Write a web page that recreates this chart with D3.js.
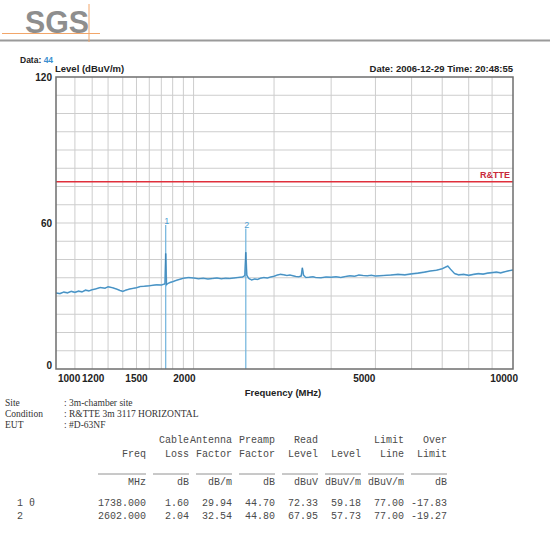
<!DOCTYPE html>
<html>
<head>
<meta charset="utf-8">
<script src="https://cdn.jsdelivr.net/npm/d3@7"></script>
<style>
  body { margin: 0; background: #fff; }
  svg { display: block; }
</style>
</head>
<body>
<div id="chart"></div>
<script>
// trace data (MHz, dBuV/m)
var traceFreq = [1000, 1020, 1040, 1060, 1080, 1100, 1120, 1140, 1160, 1180, 1200, 1220, 1250, 1280, 1300, 1330, 1360, 1380, 1400, 1420,
  1450, 1480, 1500, 1530, 1560, 1600, 1630, 1660, 1700, 1720, 1732, 1738, 1745, 1752, 1760, 1780, 1800, 1830, 1860, 1900,
  1950, 2000, 2050, 2100, 2150, 2200, 2250, 2300, 2350, 2400, 2450, 2500, 2560, 2590, 2602, 2615, 2640, 2680, 2720, 2760,
  2800, 2850, 2900, 2950, 3000, 3050, 3100, 3150, 3200, 3250, 3300, 3350, 3400, 3440, 3460, 3480, 3520, 3580, 3650, 3700,
  3800, 3900, 4000, 4100, 4200, 4300, 4400, 4500, 4600, 4700, 4800, 4900, 5000, 5200, 5400, 5600, 5800, 6000, 6200, 6400,
  6600, 6800, 7000, 7200, 7300, 7450, 7600, 7800, 8000, 8200, 8400, 8600, 8800, 9000, 9200, 9400, 9600, 9800, 10000];
var traceLevel = [31.2, 31.0, 31.6, 31.3, 31.9, 31.5, 32.0, 31.7, 32.4, 32.1, 32.6, 32.9, 33.5, 33.2, 33.8, 33.4, 32.8, 32.3, 31.9, 32.4,
  32.9, 33.2, 33.4, 33.9, 34.0, 34.2, 34.4, 34.6, 34.5, 34.8, 35.0, 47.5, 34.6, 35.0, 35.2, 35.6, 35.9, 36.4, 36.8, 37.3,
  37.6, 37.4, 37.1, 37.3, 37.0, 37.2, 37.4, 37.1, 37.3, 37.2, 37.4, 37.6, 37.8, 38.4, 48.0, 38.6, 37.2, 36.6, 37.0, 36.8,
  37.3, 37.6, 37.4, 37.8, 38.1, 38.6, 38.9, 38.7, 38.4, 38.6, 38.3, 38.0, 37.9, 38.2, 41.6, 38.6, 37.6, 37.7, 37.9, 37.6,
  37.5, 37.8, 37.7, 37.9, 37.6, 38.0, 38.3, 38.1, 38.6, 38.4, 38.3, 38.5, 38.2, 38.4, 38.6, 38.9, 38.7, 39.1, 39.4, 39.8,
  40.3, 40.6, 41.2, 42.3, 41.0, 39.2, 38.7, 38.9, 38.5, 38.9, 39.2, 39.0, 39.4, 39.6, 39.8, 39.5, 40.0, 40.4, 40.7];

// markers
var markerNo = ["1", "2"];
var markerFreq = [1738, 2602];
var markerLevel = [59.18, 57.73];

// limit line
var limitName = "R&TTE";
var limitLevel = 77;

// axes
var xTickLabels = [1000, 1200, 1500, 2000, 5000, 10000];
var xGridFreq = [1100, 1200, 1300, 1400, 1500, 1600, 1700, 1800, 1900, 2000, 3000, 4000, 5000, 6000, 7000, 8000, 9000];
var yTickLabels = [0, 60, 120];
var yGridLevel = [7.5, 15, 22.5, 30, 37.5, 45, 52.5, 60, 67.5, 75, 82.5, 90, 97.5, 105, 112.5];

// info + table
var infoKeys = ["Site", "Condition", "EUT"];
var infoValues = [": 3m-chamber site", ": R&TTE 3m 3117 HORIZONTAL", ": #D-63NF"];
var tableHead1 = ["", "  Cable", "Antenna", " Preamp", "   Read", "", "  Limit", "   Over"];
var tableHead2 = ["Freq", "Loss", "Factor", "Factor", "Level", "Level", "Line", "Limit"];
var tableUnits = ["MHz", "dB", "dB/m", "dB", "dBuV", "dBuV/m", "dBuV/m", "dB"];
var rowLabels = ["1 \u03b8", "2"];
var rowFreq = ["1738.000", "2602.000"];
var rowCable = ["1.60", "2.04"];
var rowAnt = ["29.94", "32.54"];
var rowPre = ["44.70", "44.80"];
var rowRead = ["72.33", "67.95"];
var rowLevel = ["59.18", "57.73"];
var rowLimit = ["77.00", "77.00"];
var rowOver = ["-17.83", "-19.27"];

var W = 550, H = 534;
var plot = {left: 56, right: 513, top: 77, bottom: 369};

var svg = d3.select("#chart")
  .append("svg")
    .attr("width", W)
    .attr("height", H)
    .style("font-family", "'Liberation Sans', Arial, sans-serif");

svg.append("rect").attr("width", W).attr("height", H).attr("fill", "#fff");

// ---- header logo ----
svg.append("line")
  .attr("x1", 0).attr("x2", W).attr("y1", 40.5).attr("y2", 40.5)
  .attr("stroke", "#9a9a9a").attr("stroke-width", 2);
svg.append("text")
  .attr("x", 25).attr("y", 33)
  .attr("font-size", 32).attr("font-weight", "bold")
  .attr("fill", "#8e8e8e")
  .attr("textLength", 64).attr("lengthAdjust", "spacingAndGlyphs")
  .text("SGS");
svg.append("line")
  .attr("x1", 2).attr("x2", 100).attr("y1", 33.5).attr("y2", 33.5)
  .attr("stroke", "#f2a66a").attr("stroke-width", 1);
svg.append("line")
  .attr("x1", 89).attr("x2", 89).attr("y1", 4).attr("y2", 42)
  .attr("stroke", "#f2a66a").attr("stroke-width", 1);

// ---- scales ----
var x = d3.scaleLog().domain([1000, 10000]).range([plot.left, plot.right]);
var y = d3.scaleLinear().domain([0, 120]).range([plot.bottom, plot.top]);

var g = svg.append("g");

// grid
g.selectAll(".vgrid").data(xGridFreq).enter().append("line")
  .attr("x1", function(d) { return x(d); }).attr("x2", function(d) { return x(d); })
  .attr("y1", plot.top).attr("y2", plot.bottom)
  .attr("stroke", "#cdcdcd").attr("stroke-width", 1);
g.selectAll(".hgrid").data(yGridLevel).enter().append("line")
  .attr("x1", plot.left).attr("x2", plot.right)
  .attr("y1", function(d) { return y(d); }).attr("y2", function(d) { return y(d); })
  .attr("stroke", "#cdcdcd").attr("stroke-width", 1);

// limit line
g.append("line")
  .attr("x1", plot.left).attr("x2", plot.right)
  .attr("y1", y(limitLevel)).attr("y2", y(limitLevel))
  .attr("stroke", "#e0303c").attr("stroke-width", 1.5);
g.append("text")
  .attr("x", plot.right - 3).attr("y", y(limitLevel) - 4)
  .attr("text-anchor", "end")
  .attr("font-size", 9).attr("font-weight", "bold")
  .attr("fill", "#c8283a")
  .text(limitName);

// marker lines
g.selectAll(".mk").data(markerFreq).enter().append("line")
  .attr("x1", function(d) { return x(d); }).attr("x2", function(d) { return x(d); })
  .attr("y1", plot.bottom)
  .attr("y2", function(d, i) { return y(markerLevel[i]); })
  .attr("stroke", "#6fb3dc").attr("stroke-width", 1.2);
g.selectAll(".mkl").data(markerFreq).enter().append("text")
  .attr("x", function(d) { return x(d) + 1; })
  .attr("y", function(d, i) { return y(markerLevel[i]) - 1; })
  .attr("text-anchor", "middle")
  .attr("font-size", 9)
  .attr("fill", "#4d9fd4")
  .text(function(d, i) { return markerNo[i]; });

// trace
var pts = traceFreq.map(function(f, i) { return [f, traceLevel[i]]; });
var line = d3.line()
  .x(function(d) { return x(d[0]); })
  .y(function(d) { return y(d[1]); });
g.append("path")
  .datum(pts)
  .attr("d", line)
  .attr("fill", "none")
  .attr("stroke", "#69b4e4").attr("stroke-width", 1.6);
g.append("path")
  .datum(pts)
  .attr("d", line)
  .attr("fill", "none")
  .attr("stroke", "#3a7aa8").attr("stroke-width", 0.7);

// frame
g.append("rect")
  .attr("x", plot.left).attr("y", plot.top)
  .attr("width", plot.right - plot.left).attr("height", plot.bottom - plot.top)
  .attr("fill", "none").attr("stroke", "#6e6e6e").attr("stroke-width", 1.5);

// x labels
var xAnchor = {1000: "start", 1200: "middle", 1500: "middle", 2000: "end", 5000: "end", 10000: "end"};
var xShift = {1000: 2, 1200: 1, 1500: 0, 2000: 2, 5000: 0, 10000: 5};
g.selectAll(".xl").data(xTickLabels).enter().append("text")
  .attr("x", function(d) { return x(d) + xShift[d]; })
  .attr("y", plot.bottom + 13)
  .attr("text-anchor", function(d) { return xAnchor[d]; })
  .attr("font-size", 10).attr("font-weight", "bold")
  .attr("fill", "#222")
  .text(function(d) { return d; });
svg.append("text")
  .attr("x", 283).attr("y", 396)
  .attr("text-anchor", "middle")
  .attr("font-size", 9.5).attr("font-weight", "bold")
  .attr("fill", "#222")
  .text("Frequency (MHz)");

// y labels
g.selectAll(".yl").data(yTickLabels).enter().append("text")
  .attr("x", plot.left - 4)
  .attr("y", function(d) { return y(d) + (d === 0 ? 0 : 4); })
  .attr("text-anchor", "end")
  .attr("font-size", 10).attr("font-weight", "bold")
  .attr("fill", "#222")
  .text(function(d) { return d; });

// top texts
var t = svg.append("text").attr("x", 20).attr("y", 63)
  .attr("font-size", 8.5).attr("font-weight", "bold").attr("fill", "#222");
t.append("tspan").text("Data: ");
t.append("tspan").attr("fill", "#3a8fd0").text("44");
svg.append("text").attr("x", 55).attr("y", 72)
  .attr("font-size", 9.5).attr("font-weight", "bold").attr("fill", "#222")
  .text("Level (dBuV/m)");
svg.append("text").attr("x", plot.right).attr("y", 72)
  .attr("text-anchor", "end")
  .attr("font-size", 9.5).attr("font-weight", "bold").attr("fill", "#222")
  .text("Date: 2006-12-29  Time: 20:48:55");

// ---- info block ----
infoKeys.forEach(function(k, i) {
  svg.append("text").attr("x", 5).attr("y", 406 + i * 11)
    .attr("font-family", "'Liberation Serif', 'Times New Roman', serif")
    .attr("font-size", 9.5).attr("fill", "#333").text(k);
  svg.append("text").attr("x", 64).attr("y", 406 + i * 11)
    .attr("font-family", "'Liberation Serif', 'Times New Roman', serif")
    .attr("font-size", 9.5).attr("fill", "#333").text(infoValues[i]);
});

// ---- table (monospace, right aligned columns) ----
var colRight = [146, 189, 232, 275, 318, 361, 404, 447];
var mono = "'Liberation Mono', 'Courier New', monospace";
function cells(arr, yy) {
  svg.selectAll(null).data(arr).enter().append("text")
    .attr("x", function(d, i) { return colRight[i]; })
    .attr("y", yy)
    .attr("text-anchor", "end")
    .attr("font-family", mono).attr("font-size", 10)
    .attr("fill", "#4a4a4a")
    .style("white-space", "pre")
    .text(function(d) { return d; });
}
cells(tableHead1, 443);
cells(tableHead2, 457);
// underlines above the units
svg.selectAll(".ul").data(colRight).enter().append("line")
  .attr("x1", function(d, i) { return d - (i === 0 ? 48 : 36); })
  .attr("x2", function(d) { return d; })
  .attr("y1", 474).attr("y2", 474)
  .attr("stroke", "#777").attr("stroke-width", 0.8);
cells(tableUnits, 485);
var rows = [rowFreq, rowCable, rowAnt, rowPre, rowRead, rowLevel, rowLimit, rowOver];
rowLabels.forEach(function(lab, r) {
  svg.append("text").attr("x", 17).attr("y", 506 + r * 13)
    .attr("font-family", mono).attr("font-size", 10).attr("fill", "#4a4a4a")
    .style("white-space", "pre")
    .text(lab);
  cells(rows.map(function(c) { return c[r]; }), 506 + r * 13);
});
</script>
</body>
</html>
